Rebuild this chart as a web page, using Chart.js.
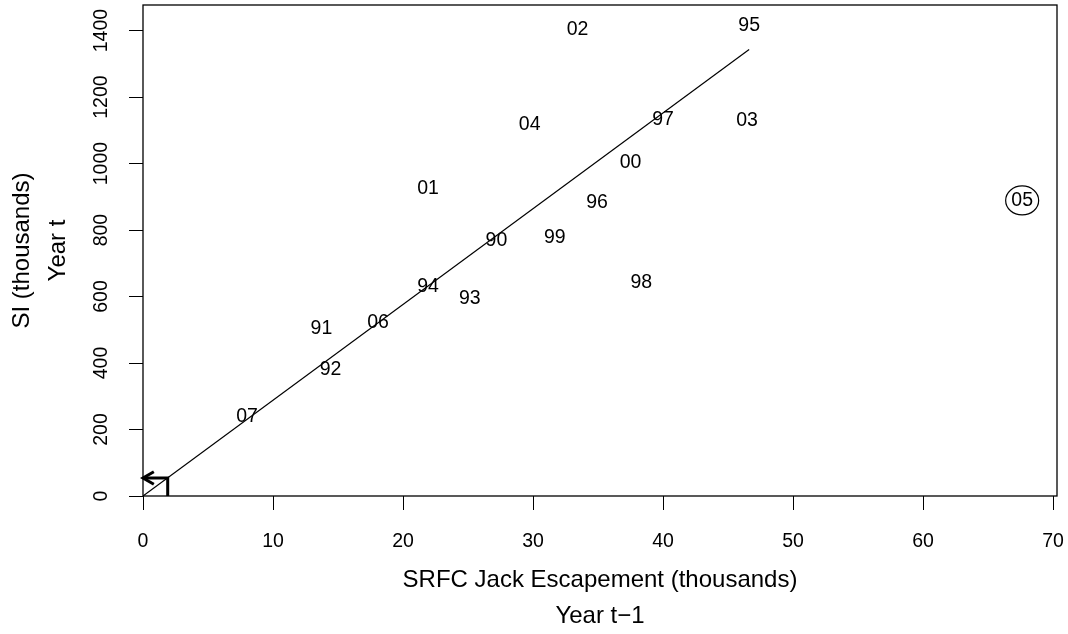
<!DOCTYPE html>
<html>
<head>
<meta charset="utf-8">
<script src="https://cdn.jsdelivr.net/npm/chart.js@4"></script>
<style>
  html, body { margin: 0; padding: 0; background: #fff; }
  #wrap { width: 1068px; height: 634px; position: relative; }
</style>
</head>
<body>
<div id="wrap"><canvas id="chart"></canvas></div>
<script>
// year labels and their (jack escapement, SI) positions, thousands
const years   = ['90','91','92','93','94','95','96','97','98','99','00','01','02','03','04','05','06','07'];
const jackEsc = [27.18, 13.72, 14.42, 25.13, 21.92, 46.62, 34.92, 40.0, 38.33, 31.67, 37.5, 21.92, 33.42, 46.46, 29.74, 67.62, 18.08, 8.0];
const siVals  = [769, 502, 381, 593, 629, 1416, 882, 1133, 642, 778, 1003, 924, 1404, 1129, 1117, 889, 523, 240];
const circledYear = '05';

// fitted line through origin
const fitX = [0, 46.62];
const fitY = [0, 1343];

// forecast: jack escapement -> predicted SI
const forecastX = [1.9, 1.9, 0];
const forecastY = [0, 54, 54];

const xTitle = ['SRFC Jack Escapement (thousands)', 'Year t\u22121'];
const yTitle = ['SI (thousands)', 'Year t'];

const FONT = '"Liberation Sans", Arial, Helvetica, sans-serif';
const tickSize = 19.5, titleSize = 24;

const pts = (xs, ys) => xs.map((x, i) => ({ x, y: ys[i] }));

const rPlot = {
  id: 'rPlot',
  afterDatasetsDraw(chart) {
    const ctx = chart.ctx, a = chart.chartArea;
    const ys = chart.scales.y;
    ctx.save();
    ctx.fillStyle = '#000';
    ctx.strokeStyle = '#000';

    // year labels
    const meta = chart.getDatasetMeta(0);
    ctx.font = tickSize + 'px ' + FONT;
    ctx.textAlign = 'center';
    ctx.textBaseline = 'middle';
    meta.data.forEach((el, i) => {
      ctx.fillText(years[i], el.x, el.y);
      if (years[i] === circledYear) {
        ctx.lineWidth = 1.2;
        ctx.beginPath();
        ctx.ellipse(el.x, el.y, 16.5, 14.5, 0, 0, Math.PI * 2);
        ctx.stroke();
      }
    });

    // arrow head at the end of the forecast path
    const fm = chart.getDatasetMeta(2).data;
    const tip = fm[fm.length - 1];
    const prev = fm[fm.length - 2];
    const ang = Math.atan2(tip.y - prev.y, tip.x - prev.x);
    const len = 12.5, spread = Math.PI / 6;
    ctx.lineWidth = 3;
    ctx.lineCap = 'butt';
    ctx.beginPath();
    ctx.moveTo(tip.x - len * Math.cos(ang - spread), tip.y - len * Math.sin(ang - spread));
    ctx.lineTo(tip.x, tip.y);
    ctx.lineTo(tip.x - len * Math.cos(ang + spread), tip.y - len * Math.sin(ang + spread));
    ctx.stroke();

    // box
    ctx.lineWidth = 1.3;
    ctx.strokeRect(a.left, a.top, a.right - a.left, a.bottom - a.top);

    // y tick labels, rotated like R
    ctx.font = tickSize + 'px ' + FONT;
    ys.ticks.forEach(t => {
      const py = ys.getPixelForValue(t.value);
      ctx.save();
      ctx.translate(a.left - 41, py);
      ctx.rotate(-Math.PI / 2);
      ctx.fillText(String(t.value), 0, 0);
      ctx.restore();
    });

    // axis titles
    ctx.font = titleSize + 'px ' + FONT;
    const cx = (a.left + a.right) / 2, cy = (a.top + a.bottom) / 2;
    ctx.fillText(xTitle[0], cx, a.bottom + 84);
    ctx.fillText(xTitle[1], cx, a.bottom + 120);
    [[yTitle[0], 121], [yTitle[1], 85]].forEach(([txt, off]) => {
      ctx.save();
      ctx.translate(a.left - off, cy);
      ctx.rotate(-Math.PI / 2);
      ctx.fillText(txt, 0, 0);
      ctx.restore();
    });
    ctx.restore();
  }
};

new Chart(document.getElementById('chart'), {
  type: 'scatter',
  data: {
    datasets: [
      { data: pts(jackEsc, siVals), pointRadius: 0, pointHoverRadius: 0 },
      { data: pts(fitX, fitY), showLine: true, borderColor: '#000', borderWidth: 1.2, pointRadius: 0 },
      { data: pts(forecastX, forecastY), showLine: true, borderColor: '#000', borderWidth: 3,
        pointRadius: 0, borderJoinStyle: 'miter', borderCapStyle: 'butt' }
    ]
  },
  options: {
    responsive: true,
    maintainAspectRatio: false,
    animation: false,
    devicePixelRatio: 1,
    layout: { padding: { left: 0, right: 11, top: 5, bottom: 0 } },
    plugins: { legend: { display: false }, tooltip: { enabled: false } },
    scales: {
      x: {
        type: 'linear', min: 0, max: 70.3,
        afterFit: s => { s.height = 138; s.paddingLeft = 0; s.paddingRight = 0; },
        border: { display: false },
        grid: { drawOnChartArea: false, drawTicks: true, tickLength: 14, color: '#000', lineWidth: 1 },
        ticks: { stepSize: 10, includeBounds: false, color: '#000', padding: 22, maxRotation: 0,
                 font: { family: FONT, size: tickSize, lineHeight: 1 } }
      },
      y: {
        type: 'linear', min: 0, max: 1477,
        afterFit: s => { s.width = 143; s.paddingTop = 0; s.paddingBottom = 0; },
        border: { display: false },
        grid: { drawOnChartArea: false, drawTicks: true, tickLength: 14, color: '#000', lineWidth: 1 },
        ticks: { stepSize: 200, includeBounds: false, display: false }
      }
    }
  },
  plugins: [rPlot]
});
</script>
</body>
</html>
